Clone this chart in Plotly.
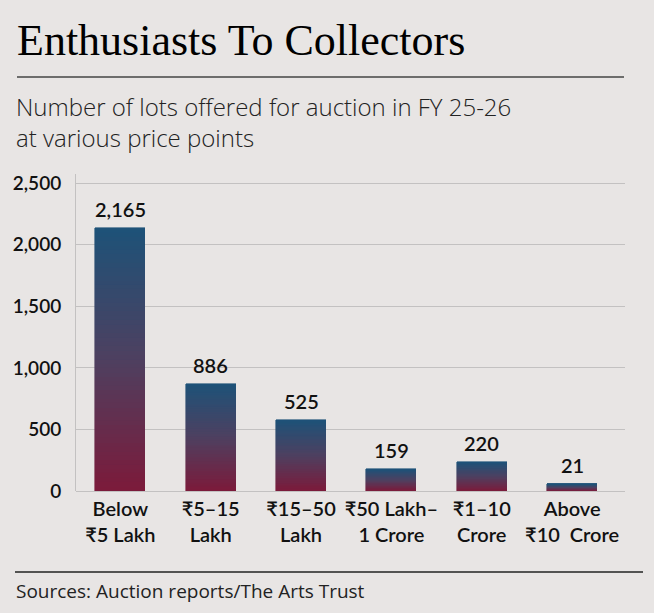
import plotly.graph_objects as go

# data
categories = ['Below<br>₹5 Lakh', '₹5–15<br>Lakh', '₹15–50<br>Lakh',
              '₹50 Lakh–<br>1 Crore', '₹1–10<br>Crore', 'Above<br>₹10  Crore']
lots = [2165, 886, 525, 159, 220, 21]            # printed labels
bar_heights = [2135, 870, 575, 175, 233, 54]     # drawn bar heights
y_ticks = [0, 500, 1000, 1500, 2000, 2500]

W, H = 654, 613
L, R, T, B = 76, 29, 174, 122
SANS = 'Lato, "Noto Sans", sans-serif'
TEXT = '"Open Sans", Lato, sans-serif'
BG = '#e8e5e4'


def px(x):
    return (x - L) / (W - L - R)


def py(y):
    return (H - B - y) / (H - T - B)


def mix(c1, c2, t):
    return 'rgb(%d,%d,%d)' % tuple(round(a + (b - a) * t) for a, b in zip(c1, c2))


bottom_col = (124, 26, 58)
top_col = (29, 82, 120)
mid_col = (78, 64, 96)

fig = go.Figure()

# gradient bars: each bar stacked from thin slices, red at the base, blue at the top
n = 60
for k in range(n):
    t = (k + 0.5) / n
    c = mix(bottom_col, mid_col, t * 2) if t < 0.5 else mix(mid_col, top_col, (t - 0.5) * 2)
    fig.add_trace(go.Bar(
        x=categories, y=[h / n for h in bar_heights],
        marker=dict(color=c, line=dict(color=c, width=0.6)),
        width=0.555, hoverinfo='skip', showlegend=False
    ))

for cat, h, v in zip(categories, bar_heights, lots):
    fig.add_annotation(x=cat, y=h, text=f'{v:,}', showarrow=False, yanchor='bottom', yshift=5,
                       font=dict(family=SANS, size=20, color='#111', weight=600))

# header / footer
fig.add_annotation(xref='paper', yref='paper', x=px(15), y=py(41), xanchor='left', yanchor='middle',
                   text='Enthusiasts To Collectors', showarrow=False,
                   font=dict(family='"Liberation Serif", serif', size=44, color='#000'))
fig.add_annotation(xref='paper', yref='paper', x=px(14), y=py(122), xanchor='left', yanchor='middle',
                   text='Number of lots offered for auction in FY 25-26<br>at various price points',
                   showarrow=False, align='left',
                   font=dict(family=TEXT, size=24, color='#222', weight=300))
fig.add_annotation(xref='paper', yref='paper', x=px(14), y=py(591), xanchor='left', yanchor='middle',
                   text='Sources: Auction reports/The Arts Trust', showarrow=False,
                   font=dict(family=TEXT, size=19, color='#222'))
fig.add_shape(type='line', xref='paper', yref='paper', x0=px(17), x1=px(624), y0=py(77), y1=py(77),
              line=dict(color='#444', width=1.5))
fig.add_shape(type='line', xref='paper', yref='paper', x0=px(15), x1=px(643), y0=py(572), y1=py(572),
              line=dict(color='#222', width=1.5))

fig.update_layout(
    width=W, height=H,
    margin=dict(l=L, r=R, t=T, b=B),
    paper_bgcolor=BG, plot_bgcolor=BG,
    barmode='stack', bargap=0,
    font=dict(family=SANS, color='#111'),
    showlegend=False,
    xaxis=dict(range=[-0.49, 5.585], showgrid=False, showline=False, ticks='',
               tickfont=dict(family=SANS, size=20, color='#111', weight=600),
               ticklabelstandoff=4, fixedrange=True),
    yaxis=dict(range=[0, 2575], tickvals=y_ticks, tickformat=',', showgrid=True,
               gridcolor='#c3c1c1', gridwidth=1, zeroline=True, zerolinecolor='#c3c1c1',
               zerolinewidth=1, showline=True, linecolor='#c3c1c1', linewidth=1,
               tickfont=dict(family=SANS, size=19, color='#111', weight=600),
               ticklabelstandoff=10, fixedrange=True),
)

# page margin off so the figure sits at the window origin
fig.write_html("out.html", config={'displayModeBar': False},
               post_script="document.body.style.margin='0';document.body.style.background='%s';" % BG)
